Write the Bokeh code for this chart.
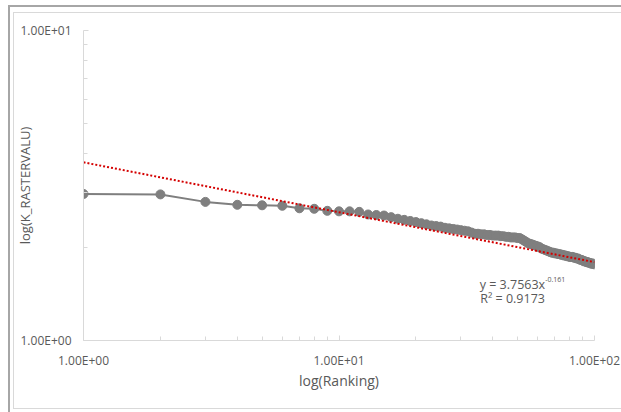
from bokeh.plotting import figure
from bokeh.models import Range1d, FixedTicker, Label
from bokeh.embed import file_html
from bokeh.resources import INLINE

# ---- data ----
RANKING = list(range(1, 101))
K_RASTERVALU = [
    2.97, 2.96, 2.80, 2.74, 2.73, 2.72, 2.67, 2.66, 2.62, 2.61,
    2.61, 2.60, 2.55, 2.54, 2.53, 2.50, 2.47, 2.45, 2.43, 2.41,
    2.39, 2.37, 2.35, 2.34, 2.33, 2.31, 2.30, 2.29, 2.28, 2.27,
    2.26, 2.25, 2.23, 2.21, 2.21, 2.20, 2.20, 2.19, 2.19, 2.18,
    2.18, 2.18, 2.17, 2.17, 2.16, 2.16, 2.15, 2.15, 2.15, 2.14,
    2.14, 2.12, 2.10, 2.08, 2.06, 2.05, 2.04, 2.03, 2.02, 2.01,
    2.00, 1.98, 1.97, 1.96, 1.95, 1.94, 1.93, 1.92, 1.92, 1.91,
    1.91, 1.90, 1.90, 1.89, 1.89, 1.88, 1.88, 1.87, 1.87, 1.86,
    1.86, 1.86, 1.85, 1.85, 1.84, 1.84, 1.83, 1.82, 1.82, 1.81,
    1.80, 1.80, 1.79, 1.79, 1.78, 1.78, 1.77, 1.77, 1.77, 1.76,
]
TREND_A = 3.7563
TREND_B = -0.161
EQ_TEXT = "y = 3.7563x"
EQ_EXP = "-0.161"
R2_TEXT = "R\u00b2 = 0.9173"

X_TICKS = [1, 10, 100]
X_TICK_LABELS = ["1.00E+00", "1.00E+01", "1.00E+02"]
X_MINOR = [2, 3, 4, 5, 6, 7, 8, 9, 20, 30, 40, 50, 60, 70, 80, 90]
Y_TICKS = [1, 10]
Y_TICK_LABELS = ["1.00E+00", "1.00E+01"]
Y_MINOR = [2, 3, 4, 5, 6, 7, 8, 9]

X_TITLE = "log(Ranking)"
Y_TITLE = "log(K_RASTERVALU)"

TEXT = "#595959"
AXIS = "#d9d9d9"
GRAY = "#7f7f7f"
RED = "#d40000"
FONT = "Open Sans"

p = figure(
    width=621, height=412,
    x_axis_type="log", y_axis_type="log",
    x_range=Range1d(X_TICKS[0], X_TICKS[-1]),
    y_range=Range1d(Y_TICKS[0], Y_TICKS[-1]),
    output_backend="svg", toolbar_location=None,
    min_border_left=83, min_border_right=27,
    min_border_top=30, min_border_bottom=72,
    background_fill_color="white", border_fill_color=None,
)
p.styles = {
    "box-shadow": ("inset 8px 5px 0 0 #ffffff, inset 10px 7px 0 0 #a6a6a6, "
                   "inset 0 -3px 0 0 #ffffff, inset 13px 12px 0 0 #ffffff, "
                   "inset 14px 13px 0 0 #d9d9d9, inset 0 -4px 0 0 #d9d9d9"),
}
p.outline_line_color = None
p.xgrid.visible = False
p.ygrid.visible = False

p.xaxis.ticker = FixedTicker(ticks=X_TICKS, minor_ticks=X_MINOR)
p.yaxis.ticker = FixedTicker(ticks=Y_TICKS, minor_ticks=Y_MINOR)
p.xaxis.major_label_overrides = dict(zip(X_TICKS, X_TICK_LABELS))
p.yaxis.major_label_overrides = dict(zip(Y_TICKS, Y_TICK_LABELS))

for ax in (p.xaxis, p.yaxis):
    ax.axis_line_color = AXIS
    ax.axis_line_width = 1
    ax.major_tick_line_color = AXIS
    ax.minor_tick_line_color = AXIS
    ax.major_tick_in = 5
    ax.major_tick_out = 0
    ax.minor_tick_in = 4
    ax.minor_tick_out = 0
    ax.major_label_text_font = FONT
    ax.major_label_text_font_size = "12px"
    ax.major_label_text_color = TEXT
    ax.axis_label_text_font = FONT
    ax.axis_label_text_font_style = "normal"
    ax.axis_label_text_color = TEXT

p.xaxis.major_label_standoff = 11
p.yaxis.major_label_standoff = 12
p.xaxis.axis_label_text_font_size = "14px"
p.yaxis.axis_label_text_font_size = "13px"
p.xaxis.axis_label = X_TITLE
p.yaxis.axis_label = Y_TITLE
p.xaxis.axis_label_standoff = -1
p.yaxis.axis_label_standoff = -16

p.line(RANKING, K_RASTERVALU, line_color=GRAY, line_width=2)
p.scatter(RANKING, K_RASTERVALU, size=9, fill_color=GRAY, line_color=GRAY)

trend_x = [RANKING[0], RANKING[-1]]
trend_y = [TREND_A * x ** TREND_B for x in trend_x]
p.line(trend_x, trend_y, line_color=RED, line_width=2, line_dash="2 2")

p.add_layout(Label(x=64.1, y=1.519, text=EQ_TEXT, text_align="right",
                   text_baseline="alphabetic", text_font=FONT,
                   text_font_size="12.5px", text_color=TEXT))
p.add_layout(Label(x=64.1, y=1.574, text=EQ_EXP, text_align="left",
                   text_baseline="alphabetic", text_font=FONT,
                   text_font_size="7px", text_color=TEXT))
p.add_layout(Label(x=47.8, y=1.366, text=R2_TEXT, text_align="center",
                   text_baseline="alphabetic", text_font=FONT,
                   text_font_size="12.5px", text_color=TEXT))

open("out.html", "w").write(file_html(p, INLINE))
